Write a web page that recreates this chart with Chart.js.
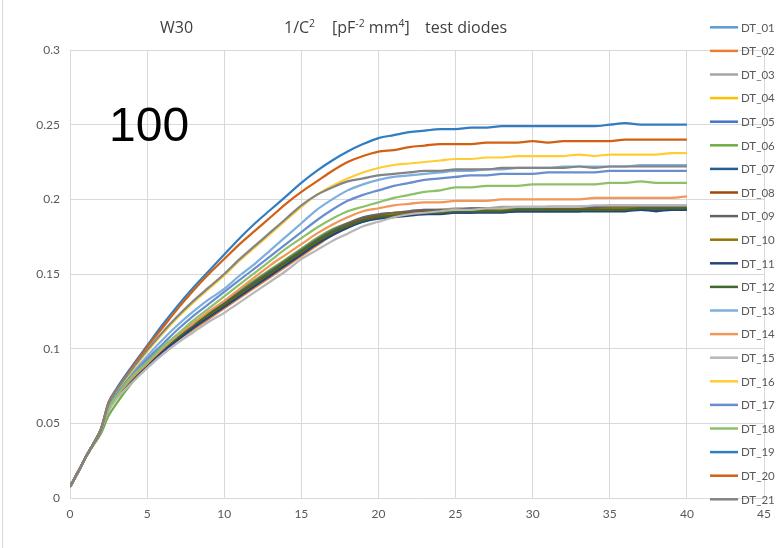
<!DOCTYPE html>
<html>
<head>
<meta charset="utf-8">
<script src="https://cdn.jsdelivr.net/npm/chart.js@4/dist/chart.umd.min.js"></script>
<style>
html,body{margin:0;padding:0;background:#fff;}
#wrap{position:relative;width:780px;height:548px;}
</style>
</head>
<body>
<div id="wrap"><canvas id="c" width="780" height="548"></canvas></div>
<script>
// Bias voltage (x axis)
const voltages = [0,0.5,1,1.5,2,2.5,3,4,5,6,7,8,9,10,11,12,13,14,15,16,17,18,19,20,21,22,23,24,25,26,27,28,29,30,31,32,33,34,35,36,37,38,39,40];

const seriesNames = ["DT_01","DT_02","DT_03","DT_04","DT_05","DT_06","DT_07","DT_08","DT_09","DT_10","DT_11","DT_12","DT_13","DT_14","DT_15","DT_16","DT_17","DT_18","DT_19","DT_20","DT_21"];

const DT_01 = [0.0075,0.017,0.027,0.036,0.045,0.060,0.068, 0.080,0.091,0.100,0.108,0.116,0.123,0.130, 0.137,0.144,0.151,0.158,0.165,0.172,0.178,0.183,0.187,0.189, 0.190,0.191,0.192,0.192,0.192,0.193,0.193,0.193,0.193,0.193, 0.193,0.194,0.193,0.194,0.194,0.194,0.194,0.194,0.194,0.194];
const DT_02 = [0.0075,0.017,0.027,0.036,0.046,0.061,0.069, 0.080,0.090,0.099,0.106,0.113,0.120,0.127, 0.134,0.141,0.148,0.155,0.162,0.169,0.176,0.181,0.186,0.189, 0.190,0.191,0.192,0.193,0.193,0.193,0.194,0.194,0.194,0.194, 0.194,0.194,0.195,0.195,0.195,0.195,0.195,0.195,0.195,0.195];
const DT_03 = [0.0075,0.017,0.027,0.036,0.045,0.059,0.067, 0.079,0.089,0.098,0.106,0.114,0.121,0.128, 0.135,0.142,0.149,0.156,0.163,0.170,0.176,0.181,0.186,0.189, 0.191,0.192,0.193,0.193,0.194,0.194,0.194,0.195,0.195,0.195, 0.195,0.195,0.195,0.195,0.196,0.196,0.196,0.196,0.196,0.196];
const DT_04 = [0.0075,0.017,0.027,0.036,0.045,0.060,0.068, 0.080,0.091,0.100,0.108,0.116,0.123,0.130, 0.137,0.144,0.151,0.158,0.165,0.172,0.178,0.183,0.187,0.189, 0.191,0.191,0.192,0.193,0.193,0.193,0.194,0.194,0.194,0.194, 0.194,0.194,0.194,0.195,0.195,0.195,0.195,0.195,0.195,0.195];
const DT_05 = [0.0075,0.017,0.027,0.036,0.045,0.059,0.067, 0.079,0.090,0.099,0.107,0.115,0.122,0.129, 0.136,0.143,0.150,0.157,0.164,0.171,0.177,0.182,0.186,0.189, 0.190,0.191,0.191,0.192,0.192,0.193,0.193,0.193,0.193,0.193, 0.193,0.193,0.194,0.194,0.194,0.194,0.194,0.194,0.194,0.194];
const DT_06 = [0.0075,0.017,0.027,0.035,0.043,0.055,0.063, 0.077,0.089,0.099,0.108,0.116,0.124,0.131, 0.139,0.146,0.153,0.160,0.167,0.174,0.180,0.184,0.187,0.189, 0.190,0.191,0.191,0.192,0.192,0.192,0.193,0.193,0.193,0.193, 0.193,0.193,0.193,0.194,0.194,0.194,0.194,0.194,0.194,0.194];
const DT_07 = [0.0075,0.017,0.027,0.036,0.045,0.059,0.067, 0.079,0.090,0.099,0.107,0.115,0.122,0.129, 0.136,0.143,0.150,0.157,0.164,0.171,0.177,0.182,0.185,0.188, 0.189,0.190,0.190,0.191,0.191,0.191,0.192,0.192,0.192,0.192, 0.192,0.192,0.192,0.193,0.193,0.193,0.193,0.193,0.193,0.193];
const DT_08 = [0.0075,0.017,0.027,0.036,0.046,0.061,0.069, 0.080,0.091,0.100,0.108,0.116,0.123,0.130, 0.137,0.144,0.151,0.158,0.165,0.172,0.178,0.183,0.187,0.189, 0.190,0.191,0.192,0.192,0.192,0.193,0.193,0.193,0.193,0.194, 0.194,0.194,0.194,0.194,0.194,0.194,0.194,0.195,0.194,0.194];
const DT_09 = [0.0075,0.017,0.027,0.036,0.046,0.061,0.069, 0.081,0.092,0.101,0.109,0.117,0.124,0.131, 0.138,0.145,0.152,0.159,0.166,0.173,0.179,0.184,0.188,0.190, 0.191,0.192,0.193,0.193,0.193,0.194,0.194,0.194,0.194,0.194, 0.195,0.195,0.195,0.195,0.195,0.195,0.195,0.195,0.195,0.195];
const DT_10 = [0.0075,0.017,0.027,0.036,0.045,0.060,0.068, 0.079,0.090,0.099,0.107,0.115,0.122,0.129, 0.136,0.143,0.150,0.157,0.164,0.171,0.177,0.182,0.186,0.188, 0.190,0.190,0.191,0.191,0.192,0.192,0.192,0.193,0.193,0.193, 0.193,0.193,0.193,0.193,0.194,0.194,0.194,0.194,0.194,0.194];
const DT_11 = [0.0075,0.017,0.027,0.036,0.045,0.059,0.067, 0.079,0.089,0.098,0.106,0.114,0.121,0.128, 0.135,0.142,0.149,0.156,0.163,0.170,0.176,0.181,0.185,0.187, 0.188,0.189,0.190,0.190,0.191,0.191,0.191,0.191,0.192,0.192, 0.192,0.192,0.192,0.192,0.192,0.192,0.193,0.192,0.193,0.193];
const DT_12 = [0.0075,0.017,0.027,0.036,0.045,0.060,0.068, 0.080,0.091,0.100,0.108,0.116,0.123,0.130, 0.137,0.144,0.151,0.158,0.165,0.172,0.178,0.182,0.186,0.188, 0.189,0.190,0.191,0.191,0.192,0.192,0.192,0.192,0.193,0.193, 0.193,0.193,0.193,0.193,0.193,0.193,0.194,0.194,0.194,0.194];
const DT_13 = [0.0075,0.017,0.027,0.036,0.045,0.062,0.070, 0.083,0.095,0.106,0.116,0.125,0.133,0.140, 0.149,0.157,0.166,0.175,0.184,0.193,0.200,0.206,0.210,0.213, 0.215,0.216,0.217,0.218,0.219,0.219,0.220,0.220,0.221,0.221, 0.221,0.222,0.222,0.222,0.222,0.222,0.223,0.223,0.223,0.223];
const DT_14 = [0.0075,0.017,0.027,0.036,0.045,0.060,0.068, 0.080,0.090,0.100,0.109,0.117,0.125,0.132, 0.140,0.148,0.156,0.163,0.170,0.177,0.183,0.188,0.192,0.194, 0.196,0.197,0.198,0.198,0.199,0.199,0.199,0.200,0.200,0.200, 0.200,0.200,0.200,0.201,0.201,0.201,0.201,0.201,0.201,0.202];
const DT_15 = [0.0075,0.017,0.027,0.036,0.045,0.058,0.066, 0.077,0.087,0.096,0.104,0.111,0.118,0.124, 0.131,0.138,0.145,0.152,0.160,0.166,0.172,0.177,0.182,0.185, 0.188,0.190,0.191,0.192,0.193,0.193,0.194,0.194,0.195,0.195, 0.195,0.195,0.195,0.196,0.196,0.196,0.196,0.196,0.196,0.196];
const DT_16 = [0.0075,0.017,0.027,0.036,0.046,0.063,0.071, 0.085,0.098,0.110,0.121,0.131,0.140,0.149, 0.159,0.168,0.177,0.186,0.195,0.203,0.209,0.214,0.218,0.221, 0.223,0.224,0.225,0.226,0.227,0.227,0.228,0.228,0.229,0.229, 0.229,0.229,0.230,0.229,0.230,0.230,0.230,0.230,0.231,0.231];
const DT_17 = [0.0075,0.017,0.027,0.036,0.045,0.061,0.069, 0.082,0.093,0.103,0.113,0.122,0.130,0.138, 0.146,0.154,0.162,0.170,0.178,0.186,0.193,0.199,0.203,0.206, 0.209,0.211,0.213,0.214,0.215,0.216,0.216,0.217,0.217,0.217, 0.218,0.218,0.218,0.218,0.219,0.219,0.219,0.219,0.219,0.219];
const DT_18 = [0.0075,0.017,0.027,0.036,0.045,0.060,0.068, 0.081,0.091,0.101,0.110,0.119,0.127,0.135, 0.143,0.151,0.159,0.167,0.174,0.181,0.187,0.192,0.195,0.198, 0.201,0.203,0.205,0.206,0.208,0.208,0.209,0.209,0.209,0.210, 0.210,0.210,0.210,0.210,0.211,0.211,0.212,0.211,0.211,0.211];
const DT_19 = [0.0075,0.017,0.027,0.036,0.046,0.064,0.073, 0.088,0.102,0.116,0.129,0.141,0.152,0.163, 0.174,0.184,0.193,0.202,0.211,0.219,0.226,0.232,0.237,0.241, 0.243,0.245,0.246,0.247,0.247,0.248,0.248,0.249,0.249,0.249, 0.249,0.249,0.249,0.249,0.250,0.251,0.250,0.250,0.250,0.250];
const DT_20 = [0.0075,0.017,0.027,0.036,0.046,0.064,0.072, 0.087,0.101,0.114,0.127,0.139,0.150,0.160, 0.170,0.179,0.188,0.197,0.205,0.212,0.219,0.225,0.229,0.232, 0.233,0.235,0.236,0.237,0.237,0.237,0.238,0.238,0.238,0.239, 0.238,0.239,0.239,0.239,0.239,0.240,0.240,0.240,0.240,0.240];
const DT_21 = [0.0075,0.017,0.027,0.036,0.046,0.063,0.072, 0.086,0.099,0.111,0.122,0.132,0.141,0.150, 0.160,0.169,0.178,0.187,0.196,0.203,0.208,0.212,0.214,0.216, 0.217,0.218,0.219,0.219,0.220,0.220,0.220,0.221,0.221,0.221, 0.221,0.221,0.222,0.221,0.222,0.222,0.222,0.222,0.222,0.222];

const seriesValues = [DT_01,DT_02,DT_03,DT_04,DT_05,DT_06,DT_07,DT_08,DT_09,DT_10,DT_11,DT_12,DT_13,DT_14,DT_15,DT_16,DT_17,DT_18,DT_19,DT_20,DT_21];

const seriesColors = ["#5B9BD5","#ED7D31","#A5A5A5","#FFC000","#4472C4","#70AD47","#255E91","#9E480E","#636363","#997300","#264478","#43682B","#7CAFDD","#F1975A","#B7B7B7","#FFCD33","#698ED0","#8CC168","#327DC2","#D26012","#848484"];

const xTicks = [0,5,10,15,20,25,30,35,40,45];
const yTicks = [0,0.05,0.1,0.15,0.2,0.25,0.3];

const datasets = seriesNames.map((name, i) => ({
  label: name,
  data: voltages.map((v, k) => ({x: v, y: seriesValues[i][k]})),
  borderColor: seriesColors[i],
  backgroundColor: seriesColors[i],
  borderWidth: 2.2,
  pointRadius: 0,
  cubicInterpolationMode: 'monotone',
  fill: false,
  order: seriesNames.length - i
}));

const decorPlugin = {
  id: 'decor',
  afterDraw(chart) {
    const ctx = chart.ctx;
    ctx.save();
    // chart border (left)
    ctx.strokeStyle = '#d9d9d9';
    ctx.lineWidth = 1;
    ctx.beginPath();
    ctx.moveTo(2.5, 0); ctx.lineTo(2.5, 548);
    ctx.stroke();

    // title
    ctx.fillStyle = '#404040';
    ctx.textBaseline = 'alphabetic';
    ctx.textAlign = 'left';
    const big = '16px "Open Sans", Lato, sans-serif';
    const sup = '10.5px "Open Sans", Lato, sans-serif';
    const base = 33;
    ctx.font = big;
    ctx.fillText('W30', 160, base);
    const drawRun = (x, parts) => {
      for (const [t, f, dy] of parts) {
        ctx.font = f;
        ctx.fillText(t, x, base + dy);
        x += ctx.measureText(t).width;
      }
    };
    drawRun(284, [['1/C', big, 0], ['2', sup, -6]]);
    drawRun(332, [['[pF', big, 0], ['-2', sup, -6], [' mm', big, 0], ['4', sup, -6], [']', big, 0]]);
    ctx.font = big;
    ctx.fillText('test diodes', 425, base);

    // big "100"
    ctx.fillStyle = '#000';
    ctx.font = '48px "Liberation Sans", Arial, sans-serif';
    ctx.fillText('100', 109, 141);

    // legend
    ctx.font = '11.5px Lato, "Liberation Sans", sans-serif';
    ctx.textBaseline = 'middle';
    chart.data.datasets.forEach((ds, i) => {
      const y = 27.3 + 23.6 * i;
      ctx.strokeStyle = ds.borderColor;
      ctx.lineWidth = 2.5;
      ctx.beginPath();
      ctx.moveTo(710, y); ctx.lineTo(738, y);
      ctx.stroke();
      ctx.fillStyle = '#595959';
      ctx.fillText(ds.label, 741, y + 0.5);
    });
    ctx.restore();
  }
};

new Chart(document.getElementById('c'), {
  type: 'line',
  data: { datasets },
  options: {
    responsive: false,
    animation: false,
    devicePixelRatio: 1,
    layout: { padding: { top: 50, right: 12, left: 0, bottom: 0 } },
    plugins: { legend: { display: false }, title: { display: false }, tooltip: { enabled: false } },
    scales: {
      x: {
        type: 'linear', min: 0, max: 45,
        afterBuildTicks(s) { s.ticks = xTicks.map(v => ({value: v})); },
        afterFit(s) { s.height = 50; },
        grid: { color: '#d9d9d9', drawTicks: false },
        border: { color: '#d9d9d9' },
        ticks: { padding: 9, color: '#595959', font: { family: 'Lato', size: 12 }, maxRotation: 0 }
      },
      y: {
        type: 'linear', min: 0, max: 0.3,
        afterBuildTicks(s) { s.ticks = yTicks.map(v => ({value: v})); },
        afterFit(s) { s.width = 70; },
        grid: { color: '#d9d9d9', drawTicks: false },
        border: { color: '#d9d9d9' },
        ticks: { padding: 10, color: '#595959', font: { family: 'Lato', size: 12 }, callback: v => String(+v.toFixed(2)) }
      }
    }
  },
  plugins: [decorPlugin]
});
</script>
</body>
</html>
